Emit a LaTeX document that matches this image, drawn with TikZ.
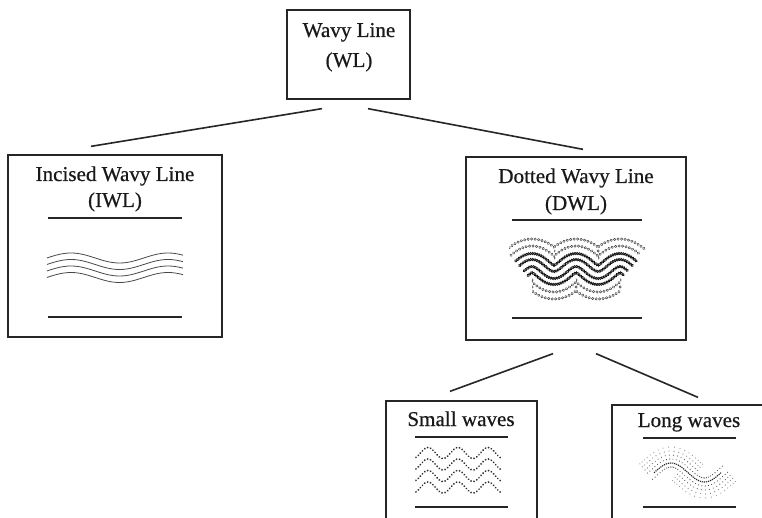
\documentclass[tikz,border=0pt]{standalone}
\usepackage{fontspec}
\setmainfont{Liberation Serif}
\newfontfamily\labelfont{Liberation Serif}[FakeBold=0.6]
\usetikzlibrary{calc,decorations.markings}
\begin{document}
\begin{tikzpicture}[x=1pt,y=-1pt,
  box/.style={draw=black!85, line width=1.3pt, inner sep=0pt},
  label/.style={font=\labelfont\fontsize{21.1}{24}\selectfont, text=black!90, anchor=base, inner sep=0pt},
  bar/.style={line width=2.4pt, draw=black!85},
  link/.style={line width=1.6pt, draw=black!85},
  incised/.style={line width=0.8pt, draw=black!72},
  lightrings/.style={decorate, decoration={markings,
      mark=between positions 0 and 1 step 3.5pt with {\draw[black!72, line width=0.5pt] (0,0) circle (1.2pt);}}},
  darkrings/.style={decorate, decoration={markings,
      mark=between positions 0 and 1 step 2.1pt with {\draw[black!92, line width=0.75pt] (0,0) circle (1.15pt);}}},
  smalldots/.style={decorate, decoration={markings,
      mark=between positions 0 and 1 step 3.1pt with {\fill[black!82] (0,0) circle (1pt);}}},
  declare function={
    ws(\u)=0.857*sin(8.1818*(\u-532));
    wy(\u)=269-6*cos(8.1818*(\u-532));
    ls(\u)=0.8909*sin(5.3731*(\u-671));
    ly(\u)=472.5-9.5*cos(5.3731*(\u-671));
  }
]
\clip (0,0) rectangle (762,518);
\fill[white] (0,0) rectangle (762,518);

% boxes
\node[box, minimum width=123pt, minimum height=89pt] (wl) at (348.5,54.5) {};
\node[box, minimum width=214pt, minimum height=182pt] (iwl) at (115,246) {};
\node[box, minimum width=220pt, minimum height=183pt] (dwl) at (576,248.5) {};
\node[box, minimum width=151pt, minimum height=139pt] (sw) at (461.5,470.5) {};
\node[box, minimum width=154pt, minimum height=135pt] (lw) at (689,472.5) {};

% titles
\node[label] (wl-name) at (349,37) {Wavy Line};
\node[label] (wl-abbr) at (349,67) {(WL)};
\node[label] (iwl-name) at (115,181) {Incised Wavy Line};
\node[label] (iwl-abbr) at (115,207) {(IWL)};
\node[label] (dwl-name) at (576,183) {Dotted Wavy Line};
\node[label] (dwl-abbr) at (576,210) {(DWL)};
\node[label] (sw-name) at (461,426) {Small waves};
\node[label] (lw-name) at (689,427) {Long waves};

% connector end points, floating just off the boxes
\coordinate (wl-l) at ($(wl.south)+(-26.5,9)$);
\coordinate (wl-r) at ($(wl.south)+(19.5,9)$);
\coordinate (iwl-t) at ($(iwl.north)+(-24,-8)$);
\coordinate (dwl-t) at ($(dwl.north)+(7,-7)$);
\coordinate (dwl-l) at ($(dwl.south)+(-23,13)$);
\coordinate (dwl-r) at ($(dwl.south)+(20,13)$);
\coordinate (sw-t) at ($(sw.north)+(-11.5,-9)$);
\coordinate (lw-t) at ($(lw.north)+(9,-7)$);

\draw[link] (wl-l) -- (iwl-t);
\draw[link] (wl-r) -- (dwl-t);
\draw[link] (dwl-l) -- (sw-t);
\draw[link] (dwl-r) -- (lw-t);

% rule bars above and below each motif
\draw[bar] (48,218) -- (182,218);
\draw[bar] (48,317) -- (182,317);
\draw[bar] (512,220) -- (642,220);
\draw[bar] (512,318) -- (642,318);
\draw[bar] (415,437) -- (508,437);
\draw[bar] (415,507) -- (508,507);
\draw[bar] (643,438) -- (736,438);
\draw[bar] (643,507) -- (736,507);

% incised wavy lines
\foreach \o in {0,6.5,13,19.5}
  \draw[incised] plot[smooth, domain=47:183, samples=60, variable=\t]
    (\t, {258+\o-5*cos(3.711*(\t-71))});

% dotted wavy line: rows of rings parallel to a central wave;
% outer rows are drawn arch by arch so their loops are cut away
\begin{scope}
\clip (509,200) rectangle (645,340);
\foreach \d in {3.5,-3.5}
  \path[darkrings] plot[domain=522:630, samples=150, variable=\t]
    ({\t+\d*ws(\t)/sqrt(1+ws(\t)^2)}, {wy(\t)-\d/sqrt(1+ws(\t)^2)});
\foreach \a/\b/\l/\r in {522/554/400/554, 554/598/554/598, 598/630/598/800}{
  \begin{scope}
    \clip (\l,200) rectangle (\r,340);
    \path[darkrings] plot[domain=\a:\b, samples=60, variable=\t]
      ({\t+9.5*ws(\t)/sqrt(1+ws(\t)^2)}, {wy(\t)-9.5/sqrt(1+ws(\t)^2)});
    \foreach \d in {17,24}
      \path[lightrings] plot[domain=\a:\b, samples=60, variable=\t]
        ({\t+\d*ws(\t)/sqrt(1+ws(\t)^2)}, {wy(\t)-\d/sqrt(1+ws(\t)^2)});
  \end{scope}
}
\foreach \a/\b/\l/\r in {522/532/400/532, 532/576/532/576, 576/620/576/620, 620/630/620/800}{
  \begin{scope}
    \clip (\l,200) rectangle (\r,340);
    \path[darkrings] plot[domain=\a:\b, samples=60, variable=\t]
      ({\t-9.5*ws(\t)/sqrt(1+ws(\t)^2)}, {wy(\t)+9.5/sqrt(1+ws(\t)^2)});
    \foreach \d in {17,24}
      \path[lightrings] plot[domain=\a:\b, samples=60, variable=\t]
        ({\t-\d*ws(\t)/sqrt(1+ws(\t)^2)}, {wy(\t)+\d/sqrt(1+ws(\t)^2)});
  \end{scope}
}
\end{scope}

% small waves
\foreach \yc in {453,464.5,476,487.5}
  \path[smalldots] plot[domain=416:502, samples=90, variable=\t]
    (\t, {\yc-5.5*cos(12*(\t-428))});

% long waves: central wave with fanned dots
\draw[black!85, line width=1.1pt, dash pattern=on 1.2pt off 0.9pt]
  plot[smooth, domain=654:721, samples=40, variable=\t] (\t, {ly(\t)});
\foreach \d/\c in {4/70,-4/70}
  \foreach \t in {650,652.5,...,725}
    \fill[black!\c] ({\t+\d*ls(\t)/sqrt(1+ls(\t)^2)}, {ly(\t)-\d/sqrt(1+ls(\t)^2)}) circle (0.6pt);
\foreach \d/\c in {8/60,12/50,16/40}
  \foreach \t in {650,652.5,...,692.5}
    \fill[black!\c] ({\t+\d*ls(\t)/sqrt(1+ls(\t)^2)}, {ly(\t)-\d/sqrt(1+ls(\t)^2)}) circle (0.6pt);
\foreach \d/\c in {-8/60,-12/50,-16/40}
  \foreach \t in {682.5,685,...,725}
    \fill[black!\c] ({\t+\d*ls(\t)/sqrt(1+ls(\t)^2)}, {ly(\t)-\d/sqrt(1+ls(\t)^2)}) circle (0.6pt);
\end{tikzpicture}
\end{document}
